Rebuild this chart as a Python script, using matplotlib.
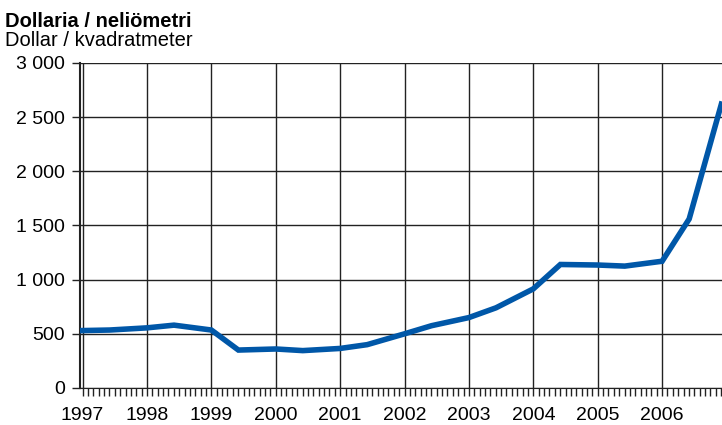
import numpy as np
import matplotlib.pyplot as plt
from matplotlib.ticker import MultipleLocator, FuncFormatter

plt.rcParams['font.family'] = ['Liberation Sans', 'DejaVu Sans']

# half-year points (Jan and about May/June), value in USD per m2
years = [1997.0, 1997.42, 1998.0, 1998.42, 1999.0, 1999.42, 2000.0, 2000.42,
         2001.0, 2001.42, 2002.0, 2002.42, 2003.0, 2003.42, 2004.0, 2004.42,
         2005.0, 2005.42, 2006.0, 2006.42, 2006.92]
price = [530, 535, 555, 580, 535, 350, 360, 345,
         365, 400, 500, 575, 650, 740, 915, 1140,
         1135, 1125, 1170, 1560, 2620]
year_labels = ['1997', '1998', '1999', '2000', '2001', '2002', '2003', '2004', '2005', '2006']
yticks = [0, 500, 1000, 1500, 2000, 2500, 3000]

fig = plt.figure(figsize=(7.22, 4.25), dpi=100)
ax = fig.add_axes([0.1108, 0.0871, 0.8892, 0.7647])

ax.plot(years, price, color='#0057a8', lw=4.0, solid_joinstyle='miter', zorder=3)

ax.set_xlim(1996.96, 2006.93)
ax.set_ylim(0, 3000)
ax.set_xticks([float(y) for y in year_labels])
ax.set_xticklabels(year_labels)
ax.xaxis.set_minor_locator(MultipleLocator(1 / 12))
ax.set_yticks(yticks)
ax.yaxis.set_major_formatter(FuncFormatter(lambda v, p: f'{int(v):,}'.replace(',', ' ')))

ax.grid(True, which='major', color='#222222', lw=1.0)
ax.tick_params(axis='x', which='both', direction='out', length=6, width=1, color='#222222',
               labelsize=14, pad=7.5)
ax.tick_params(axis='y', which='major', direction='out', length=6, width=1, color='#222222',
               labelsize=14, pad=5)
for s in ['top', 'right']:
    ax.spines[s].set_visible(False)
ax.spines['left'].set_color('#222222')
ax.spines['bottom'].set_color('#222222')
ax.spines['left'].set_linewidth(1.5)

fig.text(0.007, 0.936, 'Dollaria / neliömetri', fontsize=14.5, fontweight='bold', va='baseline')
fig.text(0.007, 0.892, 'Dollar / kvadratmeter', fontsize=14.5, va='baseline')

fig.savefig('out.png', dpi=100)
